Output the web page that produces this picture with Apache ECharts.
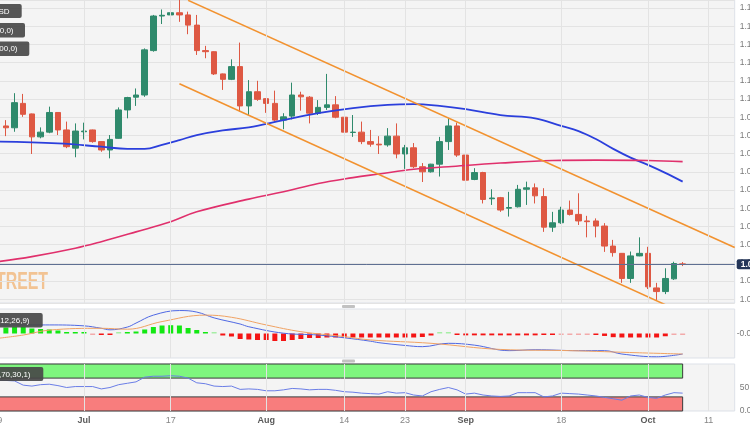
<!DOCTYPE html>
<html><head><meta charset="utf-8">
<script src="https://cdn.jsdelivr.net/npm/echarts@6/dist/echarts.min.js"></script>
<style>html,body{margin:0;padding:0;background:#fff}#c{width:750px;height:430px}</style>
</head><body><div id="c"></div>
<script>
const categories = [
'2023-06-19','2023-06-20','2023-06-21','2023-06-22','2023-06-23','2023-06-26','2023-06-27','2023-06-28','2023-06-29','2023-06-30',
'2023-07-03','2023-07-04','2023-07-05','2023-07-06','2023-07-07','2023-07-10','2023-07-11','2023-07-12','2023-07-13','2023-07-14','2023-07-17','2023-07-18','2023-07-19','2023-07-20','2023-07-21','2023-07-24','2023-07-25','2023-07-26','2023-07-27','2023-07-28','2023-07-31',
'2023-08-01','2023-08-02','2023-08-03','2023-08-04','2023-08-07','2023-08-08','2023-08-09','2023-08-10','2023-08-11','2023-08-14','2023-08-15','2023-08-16','2023-08-17','2023-08-18','2023-08-21','2023-08-22','2023-08-23','2023-08-24','2023-08-25','2023-08-28','2023-08-29','2023-08-30','2023-08-31',
'2023-09-01','2023-09-04','2023-09-05','2023-09-06','2023-09-07','2023-09-08','2023-09-11','2023-09-12','2023-09-13','2023-09-14','2023-09-15','2023-09-18','2023-09-19','2023-09-20','2023-09-21','2023-09-22','2023-09-25','2023-09-26','2023-09-27','2023-09-28','2023-09-29',
'2023-10-02','2023-10-03','2023-10-04','2023-10-05','2023-10-06','2023-10-09','2023-10-10','2023-10-11','2023-10-12','2023-10-13','2023-10-16'];

const xTickLabels = [['2023-06-19','19'],['2023-07-03','Jul'],['2023-07-17','17'],['2023-08-01','Aug'],['2023-08-14','14'],
['2023-08-23','23'],['2023-09-01','Sep'],['2023-09-18','18'],['2023-10-02','Oct'],['2023-10-11','11']];
const monthLabels = ['Jul','Aug','Sep','Oct'];

// [open, close, low, high]
const candles = [
[1.0940,1.0922,1.0918,1.0951],[1.0926,1.0921,1.0898,1.0942],[1.0921,1.0990,1.0910,1.1016],[1.0988,1.0958,1.0951,1.1014],
[1.0959,1.0896,1.0849,1.0960],[1.0896,1.0909,1.0892,1.0922],[1.0909,1.0963,1.0906,1.0979],[1.0963,1.0915,1.0901,1.0964],
[1.0915,1.0869,1.0865,1.0938],[1.0865,1.0912,1.0840,1.0933],[1.0910,1.0912,1.0889,1.0935],[1.0915,1.0883,1.0880,1.0916],
[1.0883,1.0860,1.0855,1.0884],[1.0860,1.0889,1.0837,1.0901],[1.0892,1.0970,1.0891,1.0977],[1.0970,1.1004,1.0947,1.1006],
[1.1005,1.1011,1.0981,1.1029],[1.1011,1.1135,1.1006,1.1139],[1.1133,1.1228,1.1130,1.1231],[1.1228,1.1230,1.1206,1.1246],
[1.1231,1.1237,1.1206,1.1254],[1.1237,1.1231,1.1212,1.1272],[1.1231,1.1203,1.1178,1.1240],[1.1203,1.1133,1.1121,1.1231],
[1.1133,1.1130,1.1112,1.1146],[1.1130,1.1069,1.1066,1.1131],[1.1069,1.1054,1.1025,1.1070],[1.1054,1.1089,1.1052,1.1109],
[1.1089,1.0981,1.0965,1.1155],[1.0981,1.1020,1.0956,1.1052],[1.1020,1.0999,1.0995,1.1050],[1.1001,1.0988,1.0962,1.1002],
[1.0988,1.0942,1.0938,1.1023],[1.0942,1.0951,1.0917,1.0961],[1.0953,1.1011,1.0944,1.1045],[1.1011,1.1006,1.0968,1.1020],
[1.1005,1.0961,1.0933,1.1008],[1.0961,1.0977,1.0956,1.0997],[1.0977,1.0984,1.0970,1.1069],[1.0984,1.0950,1.0947,1.1008],
[1.0950,1.0909,1.0878,1.0962],[1.0908,1.0909,1.0896,1.0956],[1.0909,1.0883,1.0876,1.0938],[1.0883,1.0876,1.0869,1.0915],
[1.0876,1.0874,1.0849,1.0898],[1.0874,1.0898,1.0869,1.0920],[1.0898,1.0849,1.0837,1.0933],[1.0849,1.0866,1.0808,1.0874],
[1.0866,1.0814,1.0810,1.0879],[1.0814,1.0800,1.0772,1.0824],[1.0800,1.0821,1.0798,1.0822],[1.0821,1.0883,1.0787,1.0896],
[1.0883,1.0926,1.0860,1.0947],[1.0926,1.0846,1.0841,1.0935],[1.0846,1.0777,1.0776,1.0883],[1.0779,1.0798,1.0777,1.0810],
[1.0798,1.0724,1.0713,1.0800],[1.0726,1.0728,1.0709,1.0752],[1.0729,1.0695,1.0690,1.0731],[1.0700,1.0702,1.0677,1.0745],
[1.0704,1.0752,1.0702,1.0764],[1.0752,1.0756,1.0709,1.0773],[1.0756,1.0734,1.0713,1.0768],[1.0732,1.0648,1.0635,1.0755],
[1.0648,1.0660,1.0635,1.0690],[1.0660,1.0695,1.0657,1.0704],[1.0695,1.0683,1.0680,1.0721],[1.0683,1.0665,1.0654,1.0741],
[1.0665,1.0663,1.0620,1.0679],[1.0665,1.0651,1.0620,1.0672],[1.0651,1.0596,1.0580,1.0659],[1.0596,1.0578,1.0567,1.0613],
[1.0576,1.0507,1.0495,1.0577],[1.0507,1.0569,1.0495,1.0581],[1.0569,1.0576,1.0568,1.0620],[1.0576,1.0484,1.0478,1.0594],
[1.0481,1.0471,1.0448,1.0495],[1.0471,1.0507,1.0464,1.0535],[1.0506,1.0548,1.0503,1.0553],[1.0547,1.0546,1.0541,1.0552]];
const lastPrice = 1.0546;

const sma50 = [['2023-06-19',1.0883],['2023-06-28',1.0878],['2023-07-05',1.0869],['2023-07-10',1.0863],['2023-07-12',1.0863],
['2023-07-14',1.0874],['2023-07-18',1.0887],['2023-07-20',1.0901],['2023-07-25',1.0914],['2023-07-28',1.0922],['2023-08-03',1.0942],
['2023-08-09',1.0961],['2023-08-15',1.0975],['2023-08-21',1.0984],['2023-08-24',1.0986],['2023-08-29',1.0981],['2023-09-01',1.0972],
['2023-09-07',1.0956],['2023-09-13',1.0947],['2023-09-18',1.0926],['2023-09-20',1.0912],['2023-09-22',1.0890],['2023-09-26',1.0863],
['2023-09-28',1.0839],['2023-10-02',1.0819],['2023-10-04',1.0797],['2023-10-06',1.0773]];

const sma200 = [['2023-06-19',1.0553],['2023-06-23',1.0567],['2023-06-30',1.0590],['2023-07-05',1.0608],['2023-07-11',1.0635],
['2023-07-17',1.0663],['2023-07-20',1.0690],['2023-07-28',1.0725],['2023-08-03',1.0745],['2023-08-09',1.0768],['2023-08-15',1.0784],
['2023-08-18',1.0794],['2023-08-24',1.0807],['2023-08-30',1.0814],['2023-09-07',1.0824],['2023-09-15',1.0831],['2023-09-22',1.0832],
['2023-10-02',1.0831],['2023-10-06',1.0828]];

const channelUpper = [['2023-07-19',1.1271],['2023-10-16',1.0592]];
const channelLower = [['2023-07-18',1.1042],['2023-10-04',1.0435]];

const macdLine = [['2023-06-19',0.0028],['2023-06-27',0.0028],['2023-07-03',0.0025],['2023-07-05',0.0017],['2023-07-06',0.0012],
['2023-07-10',0.0021],['2023-07-11',0.0034],['2023-07-13',0.0060],['2023-07-18',0.0075],['2023-07-20',0.0070],['2023-07-24',0.0051],
['2023-07-27',0.0031],['2023-07-28',0.0022],['2023-08-03',0.0001],['2023-08-09',-0.0005],['2023-08-14',-0.0014],['2023-08-17',-0.0025],
['2023-08-18',-0.0030],['2023-08-23',-0.0039],['2023-08-25',-0.0043],['2023-08-30',-0.0032],['2023-09-04',-0.0038],['2023-09-08',-0.0056],
['2023-09-13',-0.0053],['2023-09-20',-0.0056],['2023-09-25',-0.0056],['2023-09-27',-0.0067],['2023-10-03',-0.0076],['2023-10-06',-0.0067]];

const macdSignal = [['2023-06-19',-0.0016],['2023-06-22',-0.0005],['2023-06-27',0.0011],['2023-07-05',0.0017],['2023-07-10',0.0014],
['2023-07-14',0.0039],['2023-07-21',0.0060],['2023-07-26',0.0053],['2023-08-01',0.0028],['2023-08-07',0.0006],['2023-08-14',-0.0010],
['2023-08-17',-0.0021],['2023-08-28',-0.0032],['2023-09-07',-0.0052],['2023-09-19',-0.0056],['2023-09-29',-0.0063],['2023-10-06',-0.0067]];

const macdHist = [0.00196,0.00196,0.00212,0.00212,0.00163,0.00147,0.00131,0.00098,0.00049,0.00039,
0.00026,-0.0001,-0.00039,-0.00039,0.00016,0.00033,0.00065,0.00131,0.00212,0.00261,
0.00271,0.00261,0.0018,0.00114,0.00049,0.0001,-0.00065,-0.00098,-0.0018,-0.00196,
-0.00212,-0.00212,-0.00245,-0.00245,-0.00212,-0.0018,-0.00147,-0.00147,-0.0013,-0.0013,
-0.0013,-0.0013,-0.0013,-0.0013,-0.0013,-0.0013,-0.0013,-0.0013,-0.0013,-0.00114,
-0.00065,0.0001,0.0001,-0.00033,-0.0006,-0.0006,-0.0006,-0.0006,-0.0006,-0.0006,
-0.0006,-0.0006,-0.0006,-0.0005,-0.0004,-0.00016,-0.0001,-0.0001,-0.00016,-0.00026,
-0.0008,-0.0012,-0.0013,-0.0013,-0.0013,-0.0013,-0.0013,-0.0009,-0.00016,-0.00004];

const rsi = [66,65,64,55,53,56,57,54,50,52,52,52,47,50,56,59,62,72,74,74,
75,74,70,60,58,53,52,53,46,47,46,43,43,45,48,47,45,46,46,44,
41,40,38,37,36,41,38,39,34,32,41,46,50,45,36,38,34,32,31,32,
39,39,39,30,32,38,37,36,34,32,29,26,23,32,34,29,27,34,39,38];

const FONT = 'Liberation Sans, Arial, sans-serif';
const GREEN = '#2f8a6c', RED = '#de5843';
const gridW = 737.5, gridL = -2.8;

function vGrid(g) {
  return {type:'line', xAxisIndex:g, yAxisIndex:g, data:[], silent:true, z:1,
    markLine:{silent:true, symbol:['none','none'], animation:false, label:{show:false},
      lineStyle:{color:'#e3e3e3', width:1, type:'solid'},
      data: xTickLabels.map(t => ({xAxis: t[0]}))}};
}
const tickMap = Object.fromEntries(xTickLabels);
const tickIdx = new Set(xTickLabels.map(t => categories.indexOf(t[0])));

const baseX = (g, showLabel) => ({
  type:'category', gridIndex:g, data:categories, boundaryGap:false,
  axisLine:{show:false}, axisTick:{show:false}, splitLine:{show:false},
  axisLabel: showLabel ? {
    show:true, interval:(i)=>tickIdx.has(i), margin:5, fontSize:9, color:'#858585', fontFamily:FONT, hideOverlap:false,
    formatter:(v)=>{const t = tickMap[v] || ''; return monthLabels.includes(t) ? '{m|'+t+'}' : t;},
    rich:{m:{fontWeight:'bold', color:'#5a5a5a', fontSize:9, fontFamily:FONT}}
  } : {show:false}
});

const gridBase = {left:gridL, width:gridW, show:true, backgroundColor:'#f4f4f4', borderColor:'#dde1e8', borderWidth:1, containLabel:false, outerBoundsMode:'none'};
const legendFont = '8px Liberation Sans';
const BOX = 'rgba(72,72,72,0.92)';

const option = {
  animation:false,
  backgroundColor:'#ffffff',
  grid:[
    Object.assign({}, gridBase, {top:0, height:303}),
    Object.assign({}, gridBase, {top:309, height:49}),
    Object.assign({}, gridBase, {top:364, height:47})
  ],
  xAxis:[baseX(0,false), baseX(1,false), baseX(2,true)],
  yAxis:[
    {type:'value', gridIndex:0, position:'right', min:1.04396, max:1.1272, minInterval:0.005, maxInterval:0.005, splitNumber:17,
     axisLine:{show:false}, axisTick:{show:false},
     axisLabel:{formatter:(v)=>v.toFixed(5), showMinLabel:false, showMaxLabel:false, margin:5, color:'#7a7a7a', fontSize:8.5, fontFamily:FONT},
     splitLine:{lineStyle:{color:'#e3e3e3', width:1}}},
    {type:'value', gridIndex:1, position:'right', min:-0.008, max:0.008,
     axisLine:{show:false}, axisTick:{show:false}, axisLabel:{show:false}, splitLine:{show:false}},
    {type:'value', gridIndex:2, position:'right', min:0, max:100, interval:50,
     axisLine:{show:false}, axisTick:{show:false},
     axisLabel:{formatter:(v)=>v.toFixed(2), showMaxLabel:false, margin:5, color:'#7a7a7a', fontSize:8.5, fontFamily:FONT},
     splitLine:{show:false}}
  ],
  series:[
    vGrid(0), vGrid(1), vGrid(2),
    {type:'candlestick', xAxisIndex:0, yAxisIndex:0, data:candles, barWidth:6, z:3,
     itemStyle:{color:GREEN, color0:RED, borderColor:GREEN, borderColor0:RED, borderWidth:1},
     markLine:{silent:true, symbol:['none','none'], animation:false, precision:6,
       data:[{yAxis:lastPrice}],
       lineStyle:{color:'#5e6f92', width:1, type:'solid'},
       label:{position:'end', distance:2, formatter:(p)=>Number(p.value).toFixed(5), color:'#fff', fontWeight:'bold', fontSize:8.5,
         fontFamily:FONT, backgroundColor:'#233558', padding:[1,2,0,4], borderRadius:2}}},
    {type:'line', xAxisIndex:0, yAxisIndex:0, data:sma50, smooth:0.4, showSymbol:false, z:4,
     lineStyle:{color:'#2b3fdc', width:1.8}},
    {type:'line', xAxisIndex:0, yAxisIndex:0, data:sma200, smooth:0.4, showSymbol:false, z:4,
     lineStyle:{color:'#e0306c', width:1.6}},
    {type:'line', xAxisIndex:0, yAxisIndex:0, data:channelUpper, showSymbol:false, z:4, clip:true,
     lineStyle:{color:'#f2922f', width:1.6}},
    {type:'line', xAxisIndex:0, yAxisIndex:0, data:channelLower, showSymbol:false, z:4, clip:true,
     lineStyle:{color:'#f2922f', width:1.6}},
    {type:'bar', xAxisIndex:1, yAxisIndex:1, data:macdHist, barWidth:5, barMinHeight:1.5, z:2,
     itemStyle:{color:(p)=>{const v=p.value; const small=Math.abs(v)<0.0002;
        return v>=0 ? (small?'#a6eea6':'#12e812') : (small?'#f3aaaa':'#f41414');}},
     markLine:{silent:true, symbol:['none','none'], animation:false, precision:6,
       data:[{yAxis:macdHist[macdHist.length-1]}],
       lineStyle:{color:'rgba(0,0,0,0)', width:0},
       label:{show:true, position:'end', distance:2, formatter:(p)=>Number(p.value).toFixed(5), color:'#7a7a7a', fontSize:8.5, fontFamily:FONT}}},
    {type:'line', xAxisIndex:1, yAxisIndex:1, data:macdLine, smooth:0.4, showSymbol:false, z:3,
     lineStyle:{color:'#4f68e3', width:1}},
    {type:'line', xAxisIndex:1, yAxisIndex:1, data:macdSignal, smooth:0.4, showSymbol:false, z:3,
     lineStyle:{color:'#f0a263', width:1}},
    {type:'line', xAxisIndex:2, yAxisIndex:2, data:rsi, showSymbol:false, z:3,
     lineStyle:{color:'#6a7de6', width:1},
     markArea:{silent:true, data:[
       [{xAxis:categories[0], yAxis:70, itemStyle:{color:'#7ef67e', borderColor:'#3a3a3a', borderWidth:1}}, {xAxis:categories[rsi.length-1], yAxis:100}],
       [{xAxis:categories[0], yAxis:0, itemStyle:{color:'#f87d7d', borderColor:'#3a3a3a', borderWidth:1}}, {xAxis:categories[rsi.length-1], yAxis:30}]
     ]}}
  ],
  graphic:[
    {type:'text', z:0, x:48, y:271, scaleX:0.69, style:{text:'FXSTREET', x:0, y:0, textAlign:'right', textVerticalAlign:'top', font:'bold 23px Liberation Sans', fill:'#f2c393'}},
    {type:'rect', z:100, shape:{x:-60, y:4, width:81.7, height:14, r:2}, style:{fill:BOX}},
    {type:'text', z:101, style:{text:'EUR/USD', x:9.5, y:11.5, textAlign:'right', textVerticalAlign:'middle', font:legendFont, fill:'#fff'}},
    {type:'rect', z:100, shape:{x:-60, y:23, width:85, height:14.5, r:2}, style:{fill:BOX}},
    {type:'text', z:101, style:{text:'SMA(50,0)', x:13.5, y:30.5, textAlign:'right', textVerticalAlign:'middle', font:legendFont, fill:'#fff'}},
    {type:'rect', z:100, shape:{x:-60, y:41.5, width:89.3, height:14.5, r:2}, style:{fill:BOX}},
    {type:'text', z:101, style:{text:'SMA(200,0)', x:17.5, y:49, textAlign:'right', textVerticalAlign:'middle', font:legendFont, fill:'#fff'}},
    {type:'rect', z:100, shape:{x:-80, y:313, width:122.7, height:14.5, r:2}, style:{fill:BOX}},
    {type:'text', z:101, style:{text:'MACD(12,26,9)', x:29.5, y:320.5, textAlign:'right', textVerticalAlign:'middle', font:legendFont, fill:'#fff'}},
    {type:'rect', z:100, shape:{x:-80, y:367, width:123.3, height:14, r:2}, style:{fill:BOX}},
    {type:'text', z:101, style:{text:'RSI(14,70,30,1)', x:30.5, y:374.5, textAlign:'right', textVerticalAlign:'middle', font:legendFont, fill:'#fff'}},
    {type:'rect', z:100, shape:{x:342, y:305, width:13, height:3, r:1}, style:{fill:'#c2c2c2'}},
    {type:'rect', z:100, shape:{x:342, y:359.5, width:13, height:3, r:1}, style:{fill:'#c2c2c2'}}
  ]
};
const chart = echarts.init(document.getElementById('c'), null, {renderer:'canvas'});
chart.setOption(option);
</script></body></html>
